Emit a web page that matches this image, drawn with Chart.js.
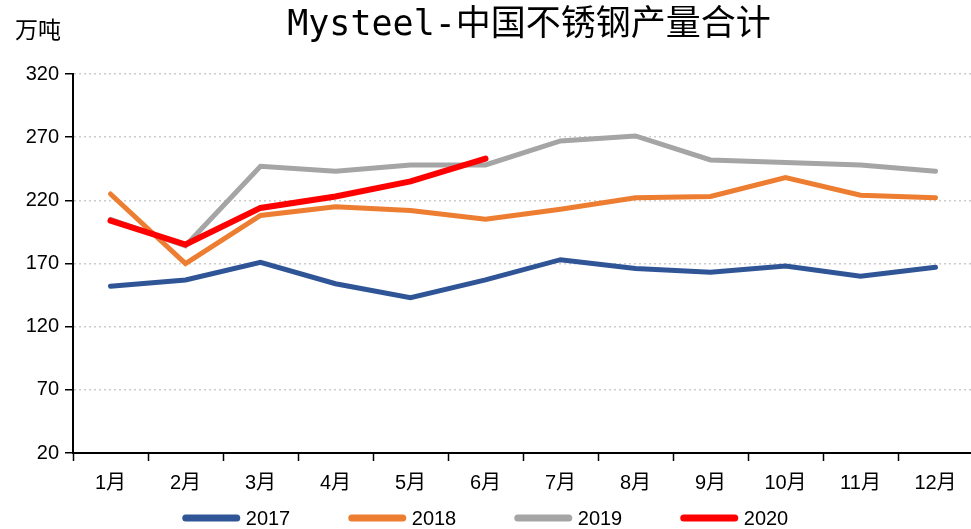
<!DOCTYPE html>
<html>
<head>
<meta charset="utf-8">
<script src="https://cdn.jsdelivr.net/npm/chart.js@4"></script>
<style>
  html, body { margin: 0; padding: 0; background: #fff; overflow: hidden; }
  #wrap { width: 975px; height: 529px; }
</style>
</head>
<body>
<div id="wrap"><canvas id="c" width="975" height="529"></canvas></div>
<script>
// 数据
const months = ['1月', '2月', '3月', '4月', '5月', '6月', '7月', '8月', '9月', '10月', '11月', '12月'];
const y2017 = [152, 157, 171, 154, 143, 157, 173, 166, 163, 168, 160, 167];
const y2018 = [225, 170, 208, 215, 212, 205, 213, 222, 223, 238, 224, 222];
const y2019 = [205, 184, 247, 243, 248, 248, 267, 271, 252, 250, 248, 243];
const y2020 = [204, 185, 214, 223, 235, 253];
const yTicks = [20, 70, 120, 170, 220, 270, 320];

const FONT = '"Liberation Sans", "Noto Sans CJK SC", sans-serif';

const extras = {
    id: 'extras',
    afterDraw(chart) {
        const ctx = chart.ctx;
        ctx.save();
        // 标题
        ctx.fillStyle = '#000';
        ctx.font = '35px "DejaVu Sans Mono", "Noto Sans CJK SC", monospace';
        ctx.textAlign = 'center';
        ctx.textBaseline = 'middle';
        ctx.fillText('Mysteel-中国不锈钢产量合计', 529, 26);
        // 单位
        ctx.font = '23px "Noto Sans CJK SC", sans-serif';
        ctx.textAlign = 'left';
        ctx.fillText('万吨', 15, 29);
        // 图例
        ctx.font = '20px ' + FONT;
        const items = chart.data.datasets;
        const pitch = 166, sw = 57;
        const lastW = sw + 6 + ctx.measureText(items[items.length - 1].label).width;
        let x = 971 / 2 - ((items.length - 1) * pitch + lastW) / 2;
        const y = 518;
        items.forEach(ds => {
            ctx.strokeStyle = ds.borderColor;
            ctx.lineWidth = 7;
            ctx.lineCap = 'round';
            ctx.beginPath();
            ctx.moveTo(x + 3, y);
            ctx.lineTo(x + sw - 3, y);
            ctx.stroke();
            ctx.fillStyle = '#000';
            ctx.fillText(ds.label, x + sw + 6, y + 1);
            x += pitch;
        });
        ctx.restore();
    }
};

const mk = (label, data, color, order, w) => ({
    label, data,
    borderColor: color,
    backgroundColor: color,
    borderWidth: w,
    pointRadius: 0,
    tension: 0,
    borderCapStyle: 'round',
    order
});

new Chart(document.getElementById('c'), {
    type: 'line',
    data: {
        labels: months,
        datasets: [
            mk('2017', y2017, '#2F5597', 4, 5),
            mk('2018', y2018, '#ED7D31', 3, 5),
            mk('2019', y2019, '#A5A5A5', 2, 5),
            mk('2020', y2020, '#FF0000', 1, 6)
        ]
    },
    options: {
        responsive: false,
        animation: false,
        devicePixelRatio: 1,
        layout: { padding: { top: 74, left: 0, right: 2, bottom: 0 } },
        plugins: {
            legend: { display: false },
            title: { display: false },
            tooltip: { enabled: false }
        },
        scales: {
            x: {
                offset: true,
                grid: {
                    offset: true,
                    drawOnChartArea: false,
                    drawTicks: true,
                    tickLength: 8,
                    tickColor: '#000',
                    tickWidth: 1.5
                },
                border: { display: true, color: '#000', width: 2 },
                ticks: {
                    color: '#000',
                    font: { family: FONT, size: 20 },
                    padding: 10,
                    maxRotation: 0
                },
                afterFit: s => { s.height = 76; }
            },
            y: {
                min: 20,
                max: 320,
                afterBuildTicks: s => { s.ticks = yTicks.map(v => ({ value: v })); },
                grid: {
                    color: '#cccccc',
                    lineWidth: 1.5,
                    drawTicks: true,
                    tickLength: 8,
                    tickColor: '#000',
                    tickWidth: 1.5,
                    tickBorderDash: []
                },
                border: { display: true, color: '#000', width: 2, dash: [2, 3] },
                ticks: {
                    color: '#000',
                    font: { family: FONT, size: 20 },
                    padding: 6
                },
                afterFit: s => { s.width = 73; }
            }
        }
    },
    plugins: [extras]
});
</script>
</body>
</html>
